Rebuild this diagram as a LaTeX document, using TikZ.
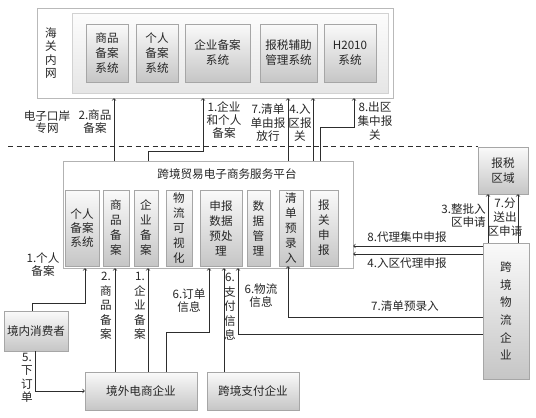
\documentclass[tikz,border=0pt]{standalone}
\usepackage{fontspec}
\setmainfont{Noto Sans CJK SC}
\usetikzlibrary{shadows}

\begin{document}
\begin{tikzpicture}[x=1pt,y=-1pt,
  box/.style={draw=gray!70, top color=gray!4, bottom color=gray!45, inner sep=0pt,
    align=center, text=black!85, font=\fontsize{11.6}{15}\selectfont,
    drop shadow={shadow xshift=1pt,shadow yshift=-1pt,opacity=0.25}},
  lbl/.style={align=center, inner sep=0pt, text=black!85, font=\fontsize{11.6}{13}\selectfont},
  vlbl/.style={align=center, inner sep=0pt, text=black!85, font=\fontsize{11.6}{14.5}\selectfont},
  conn/.style={gray!35!black, line width=0.7pt},
  >=To]
  \useasboundingbox (0,0) rectangle (536,418);

  % customs intranet
  \node[draw=gray!55, fill=white, minimum width=356, minimum height=90,
    drop shadow={shadow xshift=1pt,shadow yshift=-1pt,opacity=0.2}] (hg) at (215,53) {};
  \node[draw=gray!35, top color=gray!2, bottom color=gray!20, minimum width=316, minimum height=80] (hgin) at (230,53) {};
  \node[vlbl, font=\fontsize{11.6}{13.5}\selectfont] (hgname) at (51,53) {海\\关\\内\\网};
  \node[box, minimum width=42, minimum height=58] (spxt) at (107,53) {商品\\备案\\系统};
  \node[box, minimum width=42, minimum height=58] (grxt) at (157,53) {个人\\备案\\系统};
  \node[box, minimum width=65, minimum height=58] (qyxt) at (217.5,53) {企业备案\\系统};
  \node[box, minimum width=57, minimum height=58] (bsxt) at (288.5,53) {报税辅助\\管理系统};
  \node[box, minimum width=52, minimum height=58] (hxt) at (350,53) {H2010\\系统};

  \node[lbl, font=\fontsize{11.6}{12}\selectfont] (dzka) at (47,122) {电子口岸\\专网};
  \draw[conn, dash pattern=on 5pt off 3.5pt] (8,146) -- (478,146);

  % service platform
  \node[draw=gray!60, fill=white, minimum width=290, minimum height=107] (plat) at (208,214.5) {};
  \node[lbl] (platname) at (227,174) {跨境贸易电子商务服务平台};
  \node[box, minimum width=34, minimum height=76, font=\fontsize{11.6}{14}\selectfont] (grba) at (82,228) {个人\\备案\\系统};
  \node[box, minimum width=26, minimum height=76] (spba) at (116,228) {商\\品\\备\\案};
  \node[box, minimum width=24, minimum height=76] (qyba) at (146,228) {企\\业\\备\\案};
  \node[box, minimum width=26, minimum height=76] (wlks) at (179,228) {物\\流\\可\\视\\化};
  \node[box, minimum width=42, minimum height=76] (sbsj) at (221,228) {申报\\数据\\预处\\理};
  \node[box, minimum width=23, minimum height=76] (sjgl) at (258.5,228) {数\\据\\管\\理};
  \node[box, minimum width=24, minimum height=76] (qdyl) at (291,228) {清\\单\\预\\录\\入};
  \node[box, minimum width=28, minimum height=76] (bgsb) at (324,228) {报\\关\\申\\报};

  % enterprises
  \node[box, minimum width=50, minimum height=47] (bsqy) at (503,170.5) {报税\\区域};
  \node[box, minimum width=46, minimum height=136, font=\fontsize{11.6}{17.6}\selectfont] (wlqy) at (506,311) {跨\\境\\物\\流\\企\\业};
  \node[box, minimum width=64, minimum height=40] (xfz) at (36,331) {境内消费者};
  \node[box, minimum width=112, minimum height=38] (jwds) at (141,391) {境外电商企业};
  \node[box, minimum width=92, minimum height=38] (zfqy) at (253,391) {跨境支付企业};

  % to customs intranet
  \draw[conn,->] (plat.north -| 114,0) -- (hg.south -| 114,0);
  \draw[conn,->] (plat.north -| 148,0) -- ++(0,-9) -| (hg.south -| 203,0);
  \draw[conn,->] (plat.north -| 288,0) -- (hg.south -| 288,0);
  \draw[conn,->] (plat.north -| 313,0) -- (hg.south -| 313,0);
  \draw[conn,->] (plat.north -| 320,0) -- ++(0,-33) -| (hg.south -| 354,0);
  \node[lbl] (l2up) at (95,122) {2.商品\\备案};
  \node[lbl] (l1up) at (224,120) {1.企业\\和个人\\备案};
  \node[lbl, font=\fontsize{11.6}{13.5}\selectfont] (l7up) at (268,123) {7.清单\\单由报\\放行};
  \node[lbl, font=\fontsize{11.6}{13.5}\selectfont] (l4up) at (300,123) {4.入\\区报\\关};
  \node[lbl, font=\fontsize{11.6}{14}\selectfont] (l8up) at (375,121) {8.出区\\集中报\\关};

  % into the platform
  \draw[conn,->] (xfz.north -| 32,0) -- ++(0,-7) -| (plat.south -| 85,0);
  \draw[conn,->] (jwds.north -| 115,0) -- (plat.south -| 115,0);
  \draw[conn,->] (jwds.north -| 148,0) -- (plat.south -| 148,0);
  \draw[conn,->] (jwds.north -| 166,0) -- ++(0,-39) -| (plat.south -| 209,0);
  \draw[conn,->] (zfqy.north -| 224,0) -- (plat.south -| 224,0);
  \draw[conn,->] (wlqy.west |- 0,334) -| (plat.south -| 238,0);
  \draw[conn,->] (wlqy.west |- 0,317) -| (qdyl.south -| 288,0);
  \draw[conn,->] (wlqy.west |- 0,246) -- (plat.east |- 0,246);
  \draw[conn,->] (wlqy.west |- 0,254) -- (plat.east |- 0,254);
  \draw[conn,->] (wlqy.north -| 488,0) -- (bsqy.south -| 488,0);
  \draw[conn,->] (wlqy.north -| 518,0) -- (bsqy.south -| 518,0);
  \draw[conn,->] (xfz.south -| 35,0) |- (jwds.west);
  \node[lbl] (l1gr) at (43,265) {1.个人\\备案};
  \node[vlbl] (l2sp) at (106,306) {2.\\商\\品\\备\\案};
  \node[vlbl] (l1qy) at (140,306) {1.\\企\\业\\备\\案};
  \node[lbl] (l6dd) at (189,301) {6.订单\\信息};
  \node[vlbl] (l6zf) at (230,307) {6.\\支\\付\\信\\息};
  \node[lbl] (l6wl) at (261,296) {6.物流\\信息};
  \node[lbl] (l7qd) at (405,306) {7.清单预录入};
  \node[lbl] (l8dl) at (407,237) {8.代理集中申报};
  \node[lbl] (l4rq) at (407,263) {4.入区代理申报};
  \node[lbl, align=right, anchor=east] (l3zp) at (486,216) {3.整批入\\区申请};
  \node[lbl, font=\fontsize{11.6}{14}\selectfont] (l7fs) at (505,217) {7.分\\送出\\区申请};
  \node[vlbl, font=\fontsize{11.6}{13.5}\selectfont] (l5xd) at (27,378) {5.\\下\\订\\单};
\end{tikzpicture}
\end{document}
